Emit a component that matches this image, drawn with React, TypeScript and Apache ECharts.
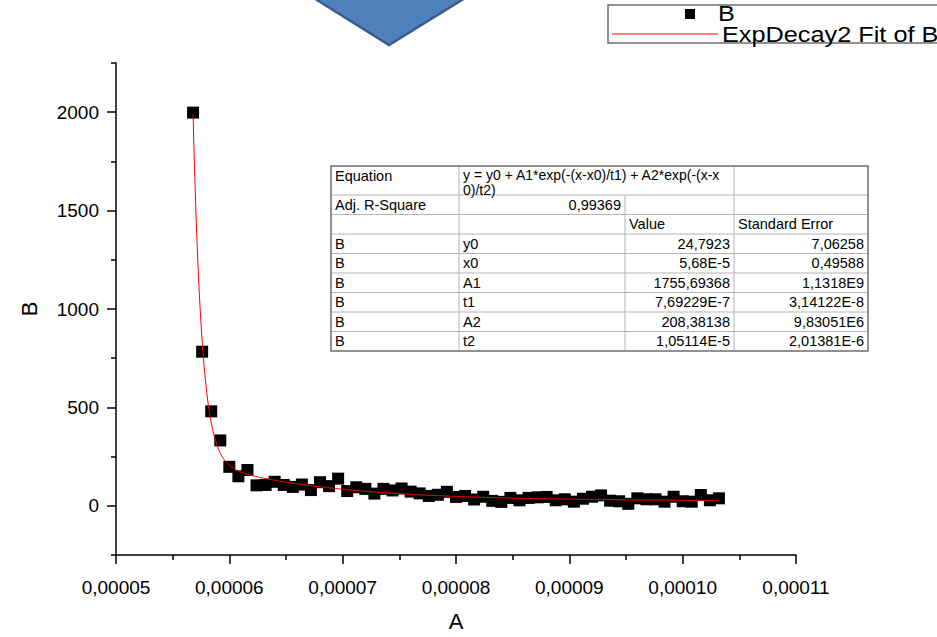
import React, { useEffect, useRef } from "react";
import * as echarts from "echarts";

// Measured points (A, B)
const xValues = [
  0.0000568, 0.0000576, 0.0000584, 0.0000592, 0.00006, 0.0000608, 0.0000616, 0.0000624, 0.0000632, 0.000064,
  0.0000648, 0.0000656, 0.0000664, 0.0000672, 0.000068, 0.0000688, 0.0000696, 0.0000704, 0.0000712, 0.000072,
  0.0000728, 0.0000736, 0.0000744, 0.0000752, 0.000076, 0.0000768, 0.0000776, 0.0000784, 0.0000792, 0.00008,
  0.0000808, 0.0000816, 0.0000824, 0.0000832, 0.000084, 0.0000848, 0.0000856, 0.0000864, 0.0000872, 0.000088,
  0.0000888, 0.0000896, 0.0000904, 0.0000912, 0.000092, 0.0000928, 0.0000936, 0.0000944, 0.0000952, 0.000096,
  0.0000968, 0.0000976, 0.0000984, 0.0000992, 0.0001, 0.0001008, 0.0001016, 0.0001024, 0.0001032,
];
const yValues = [
  1998, 783, 480, 332, 198, 150, 182, 104, 106, 122,
  106, 96, 108, 80, 120, 100, 138, 75, 94, 86,
  62, 86, 78, 88, 72, 63, 50, 56, 71, 45,
  50, 32, 46, 25, 20, 40, 28, 40, 43, 45,
  28, 33, 21, 36, 46, 53, 26, 23, 10, 38,
  33, 33, 21, 46, 23, 21, 55, 28, 38,
];

// ExpDecay2 fit parameters
const fitY0 = 24.7923;
const fitX0 = 5.68e-5;
const fitA1 = 1755.69368;
const fitT1 = 7.69229e-7;
const fitA2 = 208.38138;
const fitT2 = 1.05114e-5;

// Fit report table texts
const paramNames = ["y0", "x0", "A1", "t1", "A2", "t2"];
const paramValues = ["24,7923", "5,68E-5", "1755,69368", "7,69229E-7", "208,38138", "1,05114E-5"];
const paramErrors = ["7,06258", "0,49588", "1,1318E9", "3,14122E-8", "9,83051E6", "2,01381E-6"];
const adjRSquare = "0,99369";
const equationLines = ["y = y0 + A1*exp(-(x-x0)/t1) + A2*exp(-(x-x", "0)/t2)"];

// Axis ticks
const yMajorTicks = [0, 500, 1000, 1500, 2000];
const yMinorTicks = [-250, 250, 750, 1250, 1750, 2250];

const FONT = "'Liberation Sans', Arial, sans-serif";

function expDecay2(x: number): number {
  return (
    fitY0 +
    fitA1 * Math.exp(-(x - fitX0) / fitT1) +
    fitA2 * Math.exp(-(x - fitX0) / fitT2)
  );
}

function buildFitCurve(): number[][] {
  const start = xValues[0];
  const end = xValues[xValues.length - 1];
  const steps = 800;
  const pts: number[][] = [];
  for (let i = 0; i <= steps; i++) {
    const x = start + ((end - start) * i) / steps;
    pts.push([x, expDecay2(x)]);
  }
  return pts;
}

function buildTable(): any[] {
  const cols = [331, 459, 625, 734, 868];
  const top = 166;
  const eqBottom = 195;
  const rowH = 19.5;
  const nRows = 8;
  const bottom = eqBottom + rowH * nRows;
  const inner = { stroke: "#b4b4b4", lineWidth: 1 };
  const els: any[] = [];
  const txt = (x: number, y: number, text: string, align: string = "left") => ({
    type: "text",
    x,
    y,
    style: { text, fill: "#000", font: `14.5px ${FONT}`, lineHeight: 14, align, verticalAlign: "middle" },
  });

  els.push({ type: "rect", shape: { x: cols[0], y: top, width: cols[4] - cols[0], height: bottom - top }, style: { fill: "#fff", stroke: "none" } });

  // horizontal rules
  for (let r = 0; r < nRows; r++) {
    const y = eqBottom + rowH * r;
    els.push({ type: "line", shape: { x1: cols[0], y1: y, x2: cols[4], y2: y }, style: inner });
  }
  // vertical rules
  els.push({ type: "line", shape: { x1: cols[1], y1: top, x2: cols[1], y2: bottom }, style: inner });
  els.push({ type: "line", shape: { x1: cols[2], y1: eqBottom, x2: cols[2], y2: bottom }, style: inner });
  els.push({ type: "line", shape: { x1: cols[3], y1: top, x2: cols[3], y2: bottom }, style: inner });

  // outer frame
  els.push({ type: "rect", shape: { x: cols[0], y: top, width: cols[4] - cols[0], height: bottom - top }, style: { fill: "none", stroke: "#6e6e6e", lineWidth: 1.5 } });

  const pad = 4;
  els.push(txt(cols[0] + pad, top + 10, "Equation"));
  // wrapped equation, two lines inside the merged cell
  equationLines.forEach((line, i) => {
    els.push({
      type: "text",
      x: cols[1] + pad,
      y: top + 9 + i * 15,
      style: { text: line, fill: "#000", font: `14px ${FONT}`, lineHeight: 14, align: "left", verticalAlign: "middle" },
    });
  });

  const rowMid = (r: number) => eqBottom + rowH * r + rowH / 2;
  els.push(txt(cols[0] + pad, rowMid(0), "Adj. R-Square"));
  els.push(txt(cols[2] - pad, rowMid(0), adjRSquare, "right"));
  els.push(txt(cols[2] + pad, rowMid(1), "Value"));
  els.push(txt(cols[3] + pad, rowMid(1), "Standard Error"));
  paramNames.forEach((name, i) => {
    const y = rowMid(2 + i);
    els.push(txt(cols[0] + pad, y, "B"));
    els.push(txt(cols[1] + pad, y, name));
    els.push(txt(cols[3] - pad, y, paramValues[i], "right"));
    els.push(txt(cols[4] - pad, y, paramErrors[i], "right"));
  });
  return els;
}

function buildLegend(): any[] {
  const legendFont = `22px ${FONT}`;
  return [
    { type: "rect", shape: { x: 608, y: 5, width: 400, height: 38 }, style: { fill: "#fff", stroke: "#6e6e6e", lineWidth: 1.5 } },
    { type: "rect", shape: { x: 685, y: 9, width: 10, height: 10 }, style: { fill: "#000" } },
    { type: "text", x: 718, y: 14, scaleX: 1.15, style: { text: "B", fill: "#000", font: legendFont, lineHeight: 20, verticalAlign: "middle" } },
    { type: "line", shape: { x1: 612, y1: 34, x2: 718, y2: 34 }, style: { stroke: "#ff0000", lineWidth: 1 } },
    { type: "text", x: 722, y: 35, scaleX: 1.15, style: { text: "ExpDecay2 Fit of B", fill: "#000", font: legendFont, lineHeight: 20, verticalAlign: "middle" } },
  ];
}

export default function App() {
  const ref = useRef<HTMLDivElement>(null);

  useEffect(() => {
    if (!ref.current) return;
    const chart = echarts.init(ref.current, undefined, { renderer: "svg" });
    const scatterData = xValues.map((x, i) => [x, yValues[i]]);

    chart.setOption({
      animation: false,
      backgroundColor: "#fff",
      grid: { left: 116, right: 141, top: 63, bottom: 72 },
      xAxis: {
        type: "value",
        min: 0.00005,
        max: 0.00011,
        interval: 0.00001,
        name: "A",
        nameLocation: "middle",
        nameGap: 55,
        nameTextStyle: { fontFamily: FONT, fontSize: 22, color: "#000" },
        axisLine: { onZero: false, lineStyle: { color: "#000", width: 1.5 } },
        axisTick: { show: true, inside: false, length: 9, lineStyle: { color: "#000", width: 1.5 } },
        minorTick: { show: true, splitNumber: 2, length: 5, lineStyle: { color: "#000", width: 1.5 } },
        splitLine: { show: false },
        axisLabel: {
          margin: 23,
          fontFamily: FONT,
          fontSize: 19,
          color: "#000",
          formatter: (v: number) => v.toFixed(5).replace(".", ","),
        },
      },
      yAxis: [
        {
          type: "value",
          min: -250,
          max: 2250,
          name: "B",
          nameLocation: "middle",
          nameGap: 76,
          nameTextStyle: { fontFamily: FONT, fontSize: 22, color: "#000" },
          axisLine: { show: true, onZero: false, lineStyle: { color: "#000", width: 1.5 } },
          axisTick: { show: true, inside: false, length: 9, customValues: yMajorTicks, lineStyle: { color: "#000", width: 1.5 } },
          splitLine: { show: false },
          axisLabel: {
            margin: 17,
            fontFamily: FONT,
            fontSize: 19,
            color: "#000",
            customValues: yMajorTicks,
            formatter: (v: number) => String(v),
          },
        },
        {
          type: "value",
          min: -250,
          max: 2250,
          position: "left",
          axisLine: { show: false },
          axisTick: { show: true, inside: false, length: 5, customValues: yMinorTicks, lineStyle: { color: "#000", width: 1.5 } },
          splitLine: { show: false },
          axisLabel: { show: false },
        },
      ],
      series: [
        {
          name: "B",
          type: "scatter",
          data: scatterData,
          symbol: "rect",
          symbolSize: 12,
          itemStyle: { color: "#000", opacity: 1 },
          z: 2,
        },
        {
          name: "ExpDecay2 Fit of B",
          type: "line",
          data: buildFitCurve(),
          showSymbol: false,
          symbol: "none",
          lineStyle: { color: "#ff0000", width: 1 },
          z: 3,
        },
      ],
      graphic: [
        {
          type: "polygon",
          shape: { points: [[301, -10], [478, -10], [389, 45]] },
          style: { fill: "#4f81bd", stroke: "#385d8a", lineWidth: 2.5 },
          z: 10,
        },
        ...buildLegend().map((e) => ({ ...e, z: 10 })),
        ...buildTable().map((e) => ({ ...e, z: 10 })),
      ],
    });

    return () => chart.dispose();
  }, []);

  return (
    <div
      ref={ref}
      style={{ position: "fixed", left: 0, top: 0, width: 937, height: 637, background: "#fff" }}
    />
  );
}
